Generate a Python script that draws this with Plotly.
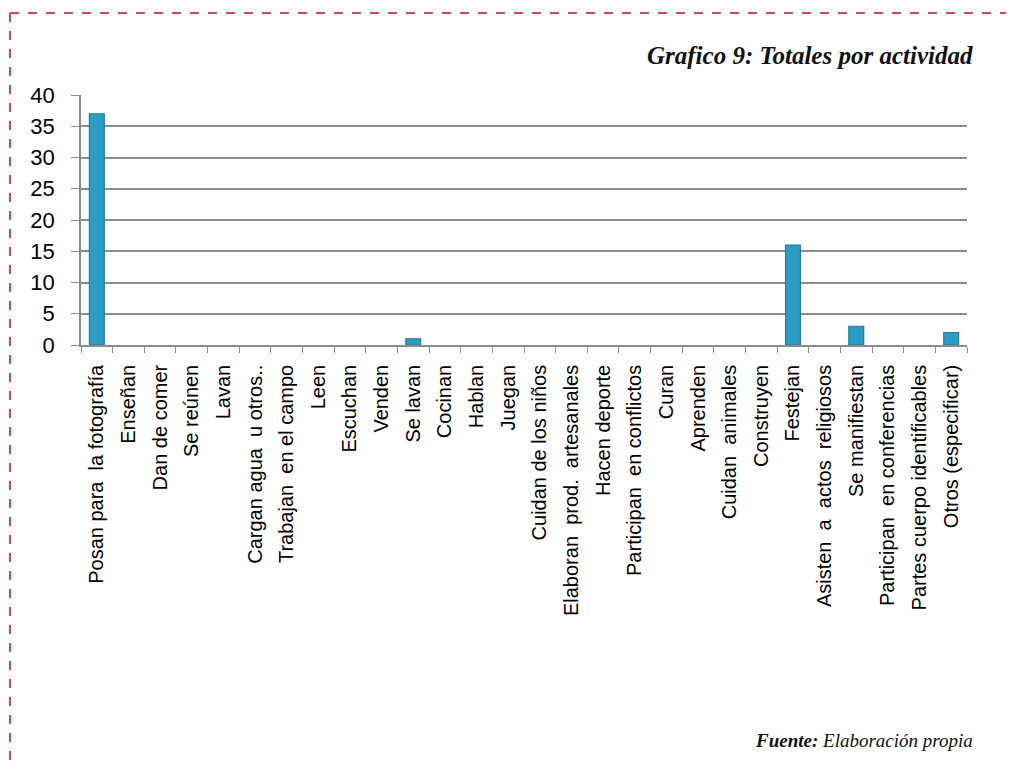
import plotly.graph_objects as go

categories = [
    "Posan para  la fotografía", "Enseñan", "Dan de comer", "Se reúnen", "Lavan",
    "Cargan agua  u otros..", "Trabajan  en el campo", "Leen", "Escuchan", "Venden",
    "Se lavan", "Cocinan", "Hablan", "Juegan", "Cuidan de los niños",
    "Elaboran  prod.  artesanales", "Hacen deporte", "Participan  en conflictos", "Curan",
    "Aprenden", "Cuidan  animales", "Construyen", "Festejan", "Asisten  a  actos  religiosos",
    "Se manifiestan", "Participan  en conferencias", "Partes cuerpo identificables",
    "Otros (especificar)",
]
values = [37, 0, 0, 0, 0, 0, 0, 0, 0, 0, 1, 0, 0, 0, 0, 0, 0, 0, 0, 0, 0, 0, 16, 0, 3, 0, 0, 2]
y_ticks = [0, 5, 10, 15, 20, 25, 30, 35, 40]

# page body has an 8px margin; shift everything accordingly
OFF = 8
W, H = 1014, 766
L, R, T, B = 81 - OFF, 967 - OFF, 95 - OFF, 345 - OFF

fig = go.Figure(go.Bar(
    x=categories, y=values, width=0.47,
    marker=dict(color="#2c9dc2",
                line=dict(color="#217d9b", width=[1.2 if v else 0 for v in values])),
))


def px_x(x):
    return (x - OFF - L) / (R - L)


def px_y(y):
    return (B - (y - OFF)) / (B - T)


border = dict(color="#c0504d", width=2, dash="dash")
fig.add_shape(type="line", xref="paper", yref="paper",
              x0=px_x(10), x1=px_x(1030), y0=px_y(13), y1=px_y(13), line=border)
fig.add_shape(type="line", xref="paper", yref="paper",
              x0=px_x(10), x1=px_x(10), y0=px_y(13), y1=px_y(780), line=border)

fig.add_annotation(xref="paper", yref="paper", x=px_x(975), y=px_y(55),
                   xanchor="right", yanchor="middle", showarrow=False,
                   text="<b><i>Grafico 9: Totales por actividad</i></b>",
                   font=dict(family="Liberation Serif", size=25, color="#111"))
fig.add_annotation(xref="paper", yref="paper", x=px_x(975), y=px_y(740),
                   xanchor="right", yanchor="middle", showarrow=False,
                   text="<b><i>Fuente:</i></b> <i>Elaboración propia</i>",
                   font=dict(family="Liberation Serif", size=19, color="#111"))

fig.update_layout(
    width=W, height=H,
    margin=dict(l=L, r=W - R, t=T, b=H - B),
    plot_bgcolor="white", paper_bgcolor="white",
    showlegend=False,
    xaxis=dict(
        type="category", tickangle=-90, tickson="boundaries", ticks="outside",
        ticklen=6, tickcolor="#8c8c8c", showline=True, linecolor="#8c8c8c", linewidth=1.5,
        tickfont=dict(family="Liberation Sans, Arial", size=20, color="#000"),
        ticklabelstandoff=10,
        showgrid=False, range=[-0.5, len(categories) - 0.5],
    ),
    yaxis=dict(
        range=[0, 40], tickvals=y_ticks, ticks="outside", ticklen=8, tickcolor="#8c8c8c",
        showline=True, linecolor="#8c8c8c", linewidth=1.5,
        showgrid=True, gridcolor="#8c8c8c", gridwidth=1.5, zeroline=False,
        tickfont=dict(family="Liberation Sans, Arial", size=22, color="#000"),
        ticklabelstandoff=12,
    ),
)

fig.write_html("out.html")
